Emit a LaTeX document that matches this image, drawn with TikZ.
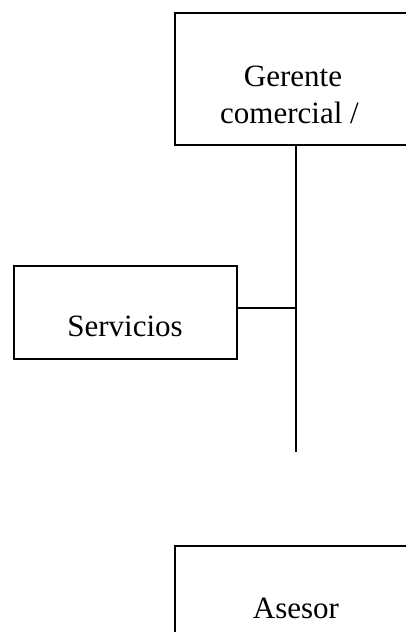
\documentclass[tikz,border=0pt]{standalone}
\usepackage{fontspec}
\setmainfont{Liberation Serif}
\begin{document}
\begin{tikzpicture}[x=1pt,y=-1pt,
  box/.style={draw=black,line width=2pt,rectangle,inner sep=0pt},
  lbl/.style={anchor=base,inner sep=0pt,font=\fontsize{31}{37}\selectfont},
  conn/.style={draw=black,line width=2pt}]
\useasboundingbox (0,0) rectangle (406,632);
\clip (0,0) rectangle (406,632);
\node[box,minimum width=242pt,minimum height=132pt] (top) at (296,79) {};
\node[box,minimum width=223pt,minimum height=93pt] (serv) at (125.5,312.5) {};
\node[box,minimum width=242pt,minimum height=150pt] (ases) at (296,621) {};
\node[lbl] (t1) at (293,86) {Gerente};
\node[lbl] (t2) at (289.5,123) {comercial /};
\node[lbl] (t3) at (125,336) {Servicios};
\node[lbl] (t4) at (296,618) {Asesor};
\coordinate (j) at (296,308);
\coordinate (e) at (296,452);
\draw[conn] (top.south) -- (e);
\draw[conn] (j) -- (j -| serv.east);
\end{tikzpicture}
\end{document}
